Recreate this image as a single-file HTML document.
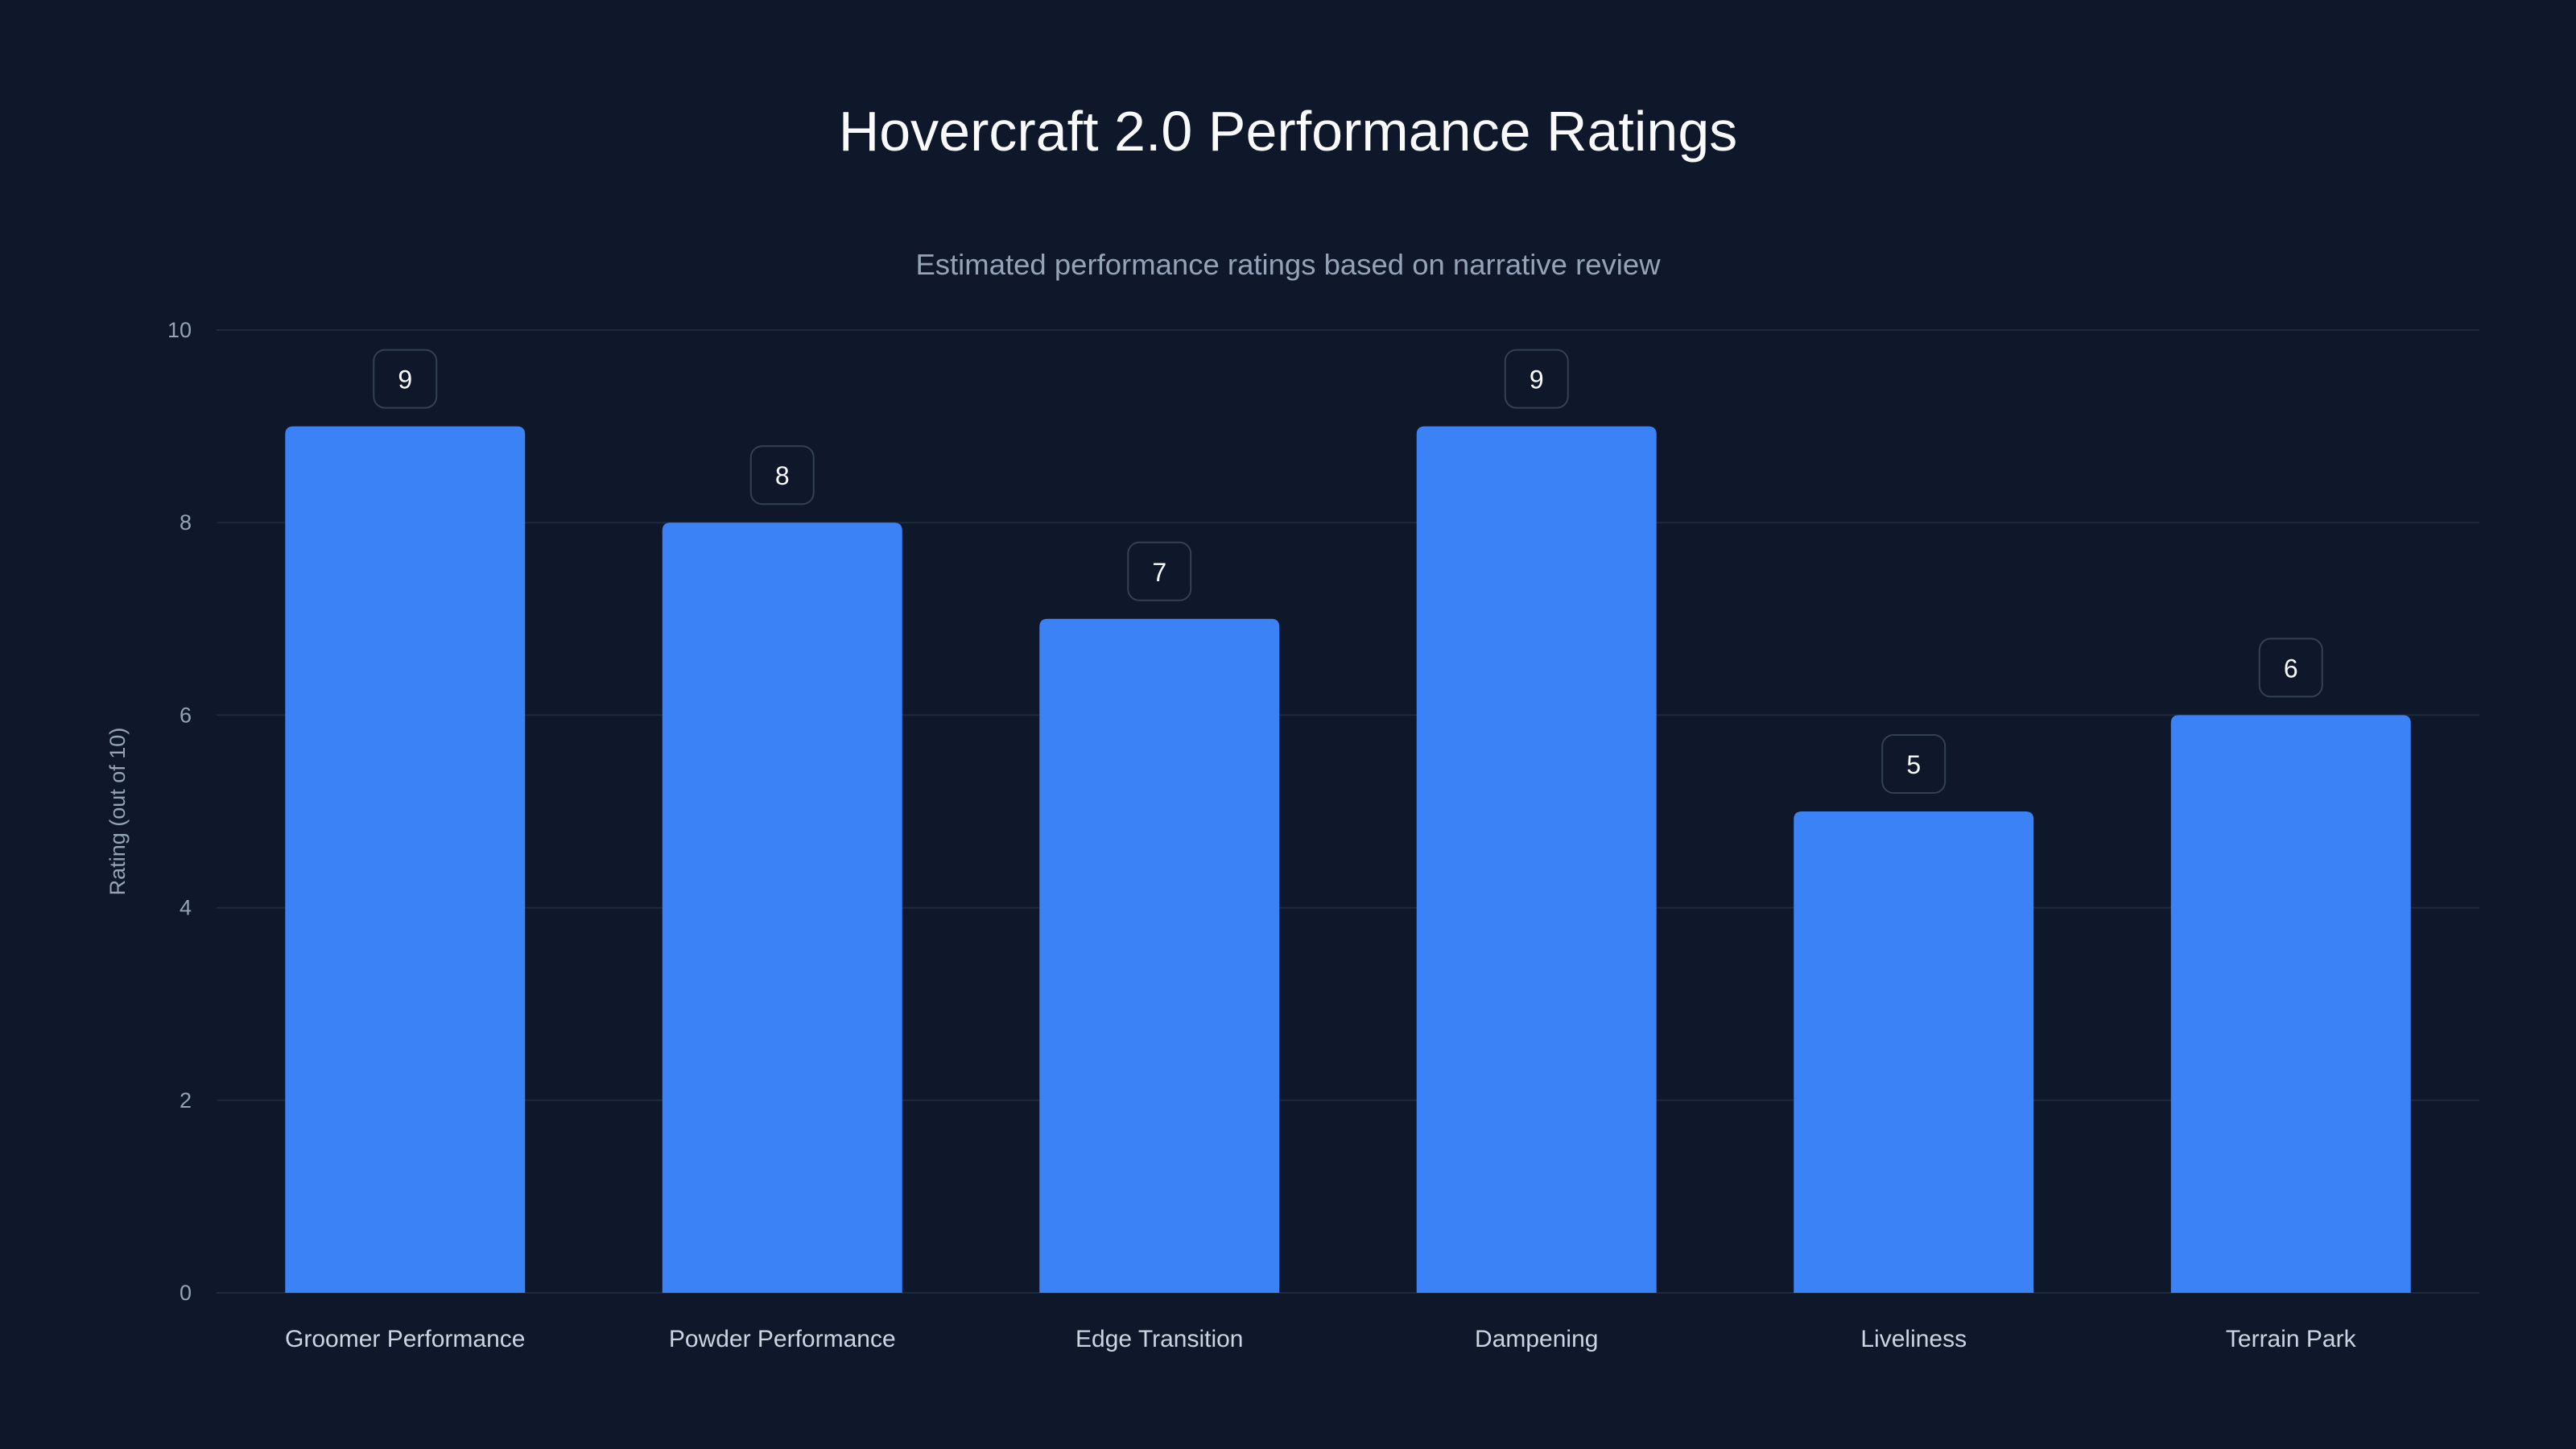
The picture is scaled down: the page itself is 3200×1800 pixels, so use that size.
<!DOCTYPE html>
<html><head><meta charset="utf-8">
<style>
html,body{margin:0;padding:0;background:#0f172a;}
svg{display:block;font-family:"Liberation Sans",sans-serif;}
</style></head>
<body>
<svg id="chart" width="3200" height="1800" viewBox="0 0 3200 1800" xmlns="http://www.w3.org/2000/svg">
<rect width="3200" height="1800" fill="#0f172a"/>
<text x="1600" y="187" text-anchor="middle" fill="#f8fafc" font-size="70">Hovercraft 2.0 Performance Ratings</text>
<text x="1600" y="341" text-anchor="middle" fill="#94a3b8" font-size="36.5">Estimated performance ratings based on narrative review</text>
<text x="0" y="0" transform="translate(155,1008) rotate(-90)" text-anchor="middle" fill="#94a3b8" font-size="27">Rating (out of 10)</text>
<g id="grid"></g>
<g id="bars"></g>
</svg>
<script>
const categories = ["Groomer Performance","Powder Performance","Edge Transition","Dampening","Liveliness","Terrain Park"];
const values = [9,8,7,9,5,6];
const yTicks = [0,2,4,6,8,10];

const NS="http://www.w3.org/2000/svg";
const x0=269,x1=3080,yBase=1606,yTop=410,yMax=10;
const band=(x1-x0)/categories.length, bw=band*0.636;
function y(v){return yBase-(v/yMax)*(yBase-yTop);}
function xc(i){return x0+band*(i+0.5);}
function mk(tag,attrs,parent){const e=document.createElementNS(NS,tag);for(const k in attrs)e.setAttribute(k,attrs[k]);parent.appendChild(e);return e;}
const grid=document.getElementById('grid'), bars=document.getElementById('bars');
yTicks.forEach(t=>{
  const l=mk('line',{x1:x0,x2:x1,y1:y(t),y2:y(t),stroke:'#1e293b','stroke-width':2},grid);
  
  
  const tx=mk('text',{x:238,y:y(t)+9,'text-anchor':'end',fill:'#94a3b8','font-size':27},grid);
  tx.textContent=t;
  
  
});
categories.forEach((c,i)=>{
  const v=values[i], cx=xc(i), top=y(v);
  const p=mk('path',{d:`M${cx-bw/2},${yBase} V${top+10} Q${cx-bw/2},${top} ${cx-bw/2+10},${top} H${cx+bw/2-10} Q${cx+bw/2},${top} ${cx+bw/2},${top+10} V${yBase} Z`,fill:'#3b82f6'},bars);
  
  
  const b=mk('rect',{x:cx-39,y:top-95,width:78,height:72,rx:14,fill:'#0f172a',stroke:'#334155','stroke-width':2},bars);
  
  
  const vt=mk('text',{x:cx,y:top-47,'text-anchor':'middle',fill:'#f8fafc','font-size':32},bars);
  vt.textContent=v;
  
  
  const xt=mk('text',{x:cx,y:1673,'text-anchor':'middle',fill:'#cbd5e1','font-size':30},bars);
  xt.textContent=c;
  
  
});
</script>
</body></html>
